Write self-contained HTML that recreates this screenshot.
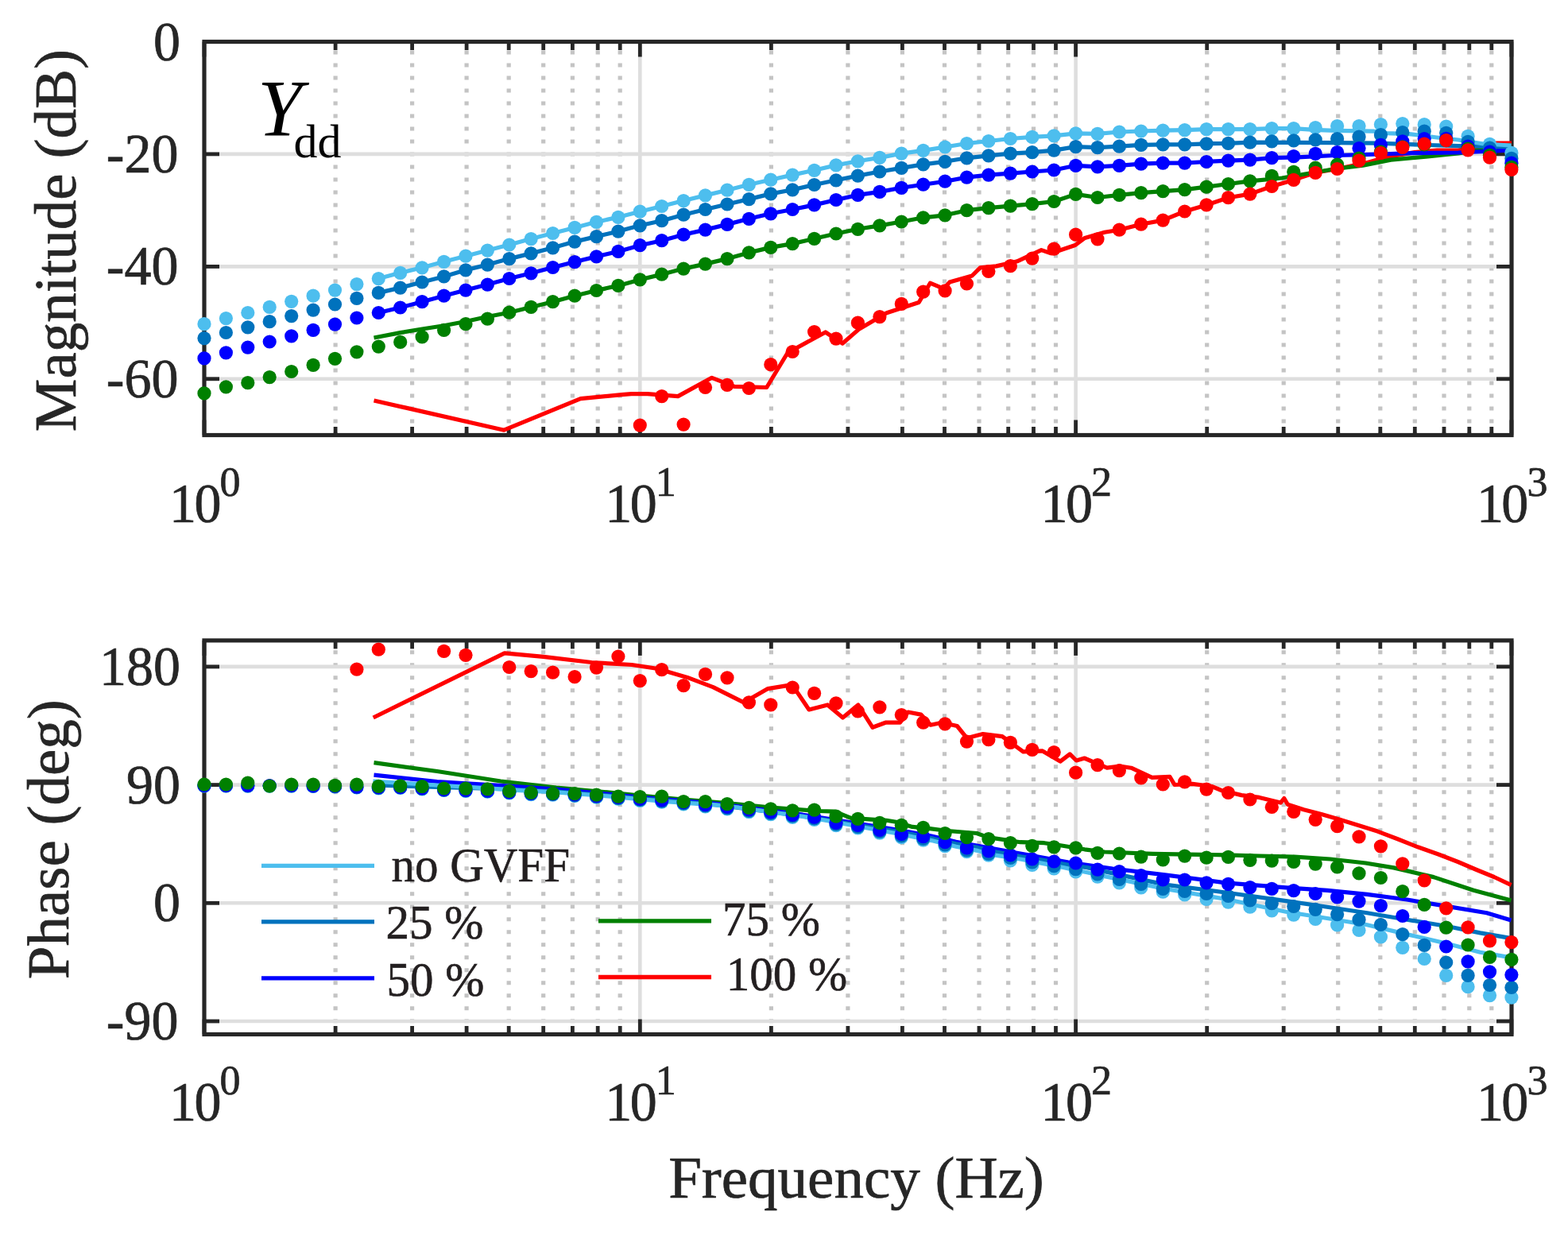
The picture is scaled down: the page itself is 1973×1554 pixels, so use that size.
<!DOCTYPE html><html><head><meta charset="utf-8"><title>Ydd Bode plot</title><style>html,body{margin:0;padding:0;background:#fff;overflow:hidden}svg{display:block}</style></head><body>
<svg width="1973" height="1554" viewBox="0 0 1973 1554">
<rect width="1973" height="1554" fill="#fff"/>
<g stroke="#c4c4c4" stroke-width="5.2" stroke-dasharray="5 11">
<line x1="422.1" y1="63.5" x2="422.1" y2="547.5"/>
<line x1="518.6" y1="63.5" x2="518.6" y2="547.5"/>
<line x1="587.1" y1="63.5" x2="587.1" y2="547.5"/>
<line x1="640.2" y1="63.5" x2="640.2" y2="547.5"/>
<line x1="683.7" y1="63.5" x2="683.7" y2="547.5"/>
<line x1="720.4" y1="63.5" x2="720.4" y2="547.5"/>
<line x1="752.2" y1="63.5" x2="752.2" y2="547.5"/>
<line x1="780.2" y1="63.5" x2="780.2" y2="547.5"/>
<line x1="970.4" y1="63.5" x2="970.4" y2="547.5"/>
<line x1="1066.9" y1="63.5" x2="1066.9" y2="547.5"/>
<line x1="1135.4" y1="63.5" x2="1135.4" y2="547.5"/>
<line x1="1188.5" y1="63.5" x2="1188.5" y2="547.5"/>
<line x1="1232" y1="63.5" x2="1232" y2="547.5"/>
<line x1="1268.7" y1="63.5" x2="1268.7" y2="547.5"/>
<line x1="1300.5" y1="63.5" x2="1300.5" y2="547.5"/>
<line x1="1328.5" y1="63.5" x2="1328.5" y2="547.5"/>
<line x1="1518.7" y1="63.5" x2="1518.7" y2="547.5"/>
<line x1="1615.2" y1="63.5" x2="1615.2" y2="547.5"/>
<line x1="1683.7" y1="63.5" x2="1683.7" y2="547.5"/>
<line x1="1736.8" y1="63.5" x2="1736.8" y2="547.5"/>
<line x1="1780.3" y1="63.5" x2="1780.3" y2="547.5"/>
<line x1="1817" y1="63.5" x2="1817" y2="547.5"/>
<line x1="1848.8" y1="63.5" x2="1848.8" y2="547.5"/>
<line x1="1876.8" y1="63.5" x2="1876.8" y2="547.5"/>
</g>
<g stroke="#dedede" stroke-width="4.6">
<line x1="257.0" y1="193.9" x2="1902.0" y2="193.9"/>
<line x1="257.0" y1="335.4" x2="1902.0" y2="335.4"/>
<line x1="257.0" y1="476.8" x2="1902.0" y2="476.8"/>
<line x1="805.3" y1="52.5" x2="805.3" y2="547.5"/>
<line x1="1353.6" y1="52.5" x2="1353.6" y2="547.5"/>
</g>
<g stroke="#262626" stroke-width="4.8">
<line x1="257.0" y1="52.5" x2="276.0" y2="52.5"/>
<line x1="1902.0" y1="52.5" x2="1883.0" y2="52.5"/>
<line x1="257.0" y1="193.9" x2="276.0" y2="193.9"/>
<line x1="1902.0" y1="193.9" x2="1883.0" y2="193.9"/>
<line x1="257.0" y1="335.4" x2="276.0" y2="335.4"/>
<line x1="1902.0" y1="335.4" x2="1883.0" y2="335.4"/>
<line x1="257.0" y1="476.8" x2="276.0" y2="476.8"/>
<line x1="1902.0" y1="476.8" x2="1883.0" y2="476.8"/>
<line x1="257" y1="547.5" x2="257" y2="528.5"/>
<line x1="257" y1="52.5" x2="257" y2="71.5"/>
<line x1="805.3" y1="547.5" x2="805.3" y2="528.5"/>
<line x1="805.3" y1="52.5" x2="805.3" y2="71.5"/>
<line x1="1353.6" y1="547.5" x2="1353.6" y2="528.5"/>
<line x1="1353.6" y1="52.5" x2="1353.6" y2="71.5"/>
<line x1="1901.9" y1="547.5" x2="1901.9" y2="528.5"/>
<line x1="1901.9" y1="52.5" x2="1901.9" y2="71.5"/>
<line x1="422.1" y1="547.5" x2="422.1" y2="537.0"/>
<line x1="422.1" y1="52.5" x2="422.1" y2="63.0"/>
<line x1="518.6" y1="547.5" x2="518.6" y2="537.0"/>
<line x1="518.6" y1="52.5" x2="518.6" y2="63.0"/>
<line x1="587.1" y1="547.5" x2="587.1" y2="537.0"/>
<line x1="587.1" y1="52.5" x2="587.1" y2="63.0"/>
<line x1="640.2" y1="547.5" x2="640.2" y2="537.0"/>
<line x1="640.2" y1="52.5" x2="640.2" y2="63.0"/>
<line x1="683.7" y1="547.5" x2="683.7" y2="537.0"/>
<line x1="683.7" y1="52.5" x2="683.7" y2="63.0"/>
<line x1="720.4" y1="547.5" x2="720.4" y2="537.0"/>
<line x1="720.4" y1="52.5" x2="720.4" y2="63.0"/>
<line x1="752.2" y1="547.5" x2="752.2" y2="537.0"/>
<line x1="752.2" y1="52.5" x2="752.2" y2="63.0"/>
<line x1="780.2" y1="547.5" x2="780.2" y2="537.0"/>
<line x1="780.2" y1="52.5" x2="780.2" y2="63.0"/>
<line x1="970.4" y1="547.5" x2="970.4" y2="537.0"/>
<line x1="970.4" y1="52.5" x2="970.4" y2="63.0"/>
<line x1="1066.9" y1="547.5" x2="1066.9" y2="537.0"/>
<line x1="1066.9" y1="52.5" x2="1066.9" y2="63.0"/>
<line x1="1135.4" y1="547.5" x2="1135.4" y2="537.0"/>
<line x1="1135.4" y1="52.5" x2="1135.4" y2="63.0"/>
<line x1="1188.5" y1="547.5" x2="1188.5" y2="537.0"/>
<line x1="1188.5" y1="52.5" x2="1188.5" y2="63.0"/>
<line x1="1232" y1="547.5" x2="1232" y2="537.0"/>
<line x1="1232" y1="52.5" x2="1232" y2="63.0"/>
<line x1="1268.7" y1="547.5" x2="1268.7" y2="537.0"/>
<line x1="1268.7" y1="52.5" x2="1268.7" y2="63.0"/>
<line x1="1300.5" y1="547.5" x2="1300.5" y2="537.0"/>
<line x1="1300.5" y1="52.5" x2="1300.5" y2="63.0"/>
<line x1="1328.5" y1="547.5" x2="1328.5" y2="537.0"/>
<line x1="1328.5" y1="52.5" x2="1328.5" y2="63.0"/>
<line x1="1518.7" y1="547.5" x2="1518.7" y2="537.0"/>
<line x1="1518.7" y1="52.5" x2="1518.7" y2="63.0"/>
<line x1="1615.2" y1="547.5" x2="1615.2" y2="537.0"/>
<line x1="1615.2" y1="52.5" x2="1615.2" y2="63.0"/>
<line x1="1683.7" y1="547.5" x2="1683.7" y2="537.0"/>
<line x1="1683.7" y1="52.5" x2="1683.7" y2="63.0"/>
<line x1="1736.8" y1="547.5" x2="1736.8" y2="537.0"/>
<line x1="1736.8" y1="52.5" x2="1736.8" y2="63.0"/>
<line x1="1780.3" y1="547.5" x2="1780.3" y2="537.0"/>
<line x1="1780.3" y1="52.5" x2="1780.3" y2="63.0"/>
<line x1="1817" y1="547.5" x2="1817" y2="537.0"/>
<line x1="1817" y1="52.5" x2="1817" y2="63.0"/>
<line x1="1848.8" y1="547.5" x2="1848.8" y2="537.0"/>
<line x1="1848.8" y1="52.5" x2="1848.8" y2="63.0"/>
<line x1="1876.8" y1="547.5" x2="1876.8" y2="537.0"/>
<line x1="1876.8" y1="52.5" x2="1876.8" y2="63.0"/>
</g>
<rect x="257.0" y="52.5" width="1645.0" height="495" fill="none" stroke="#262626" stroke-width="5.2"/>
<g fill="#262626" stroke="#262626" stroke-width="0.7" font-family="Liberation Serif, Times New Roman, serif" font-size="68" text-anchor="end">
<text transform="translate(227.1 75.5) scale(1 1.04)">0</text>
<text transform="translate(224.5 216.9) scale(1 1.04)">-20</text>
<text transform="translate(224.5 358.4) scale(1 1.04)">-40</text>
<text transform="translate(224.5 499.8) scale(1 1.04)">-60</text>
</g>
<g fill="#262626" stroke="#262626" stroke-width="0.7" font-family="Liberation Serif, Times New Roman, serif">
<text transform="translate(213 656.6) scale(1 1.04)" font-size="68">1<tspan dx="-2.6">0</tspan></text>
<text x="276.5" y="623.6" font-size="52">0</text>
<text transform="translate(761.3 656.6) scale(1 1.04)" font-size="68">1<tspan dx="-2.6">0</tspan></text>
<text x="824.8" y="623.6" font-size="52">1</text>
<text transform="translate(1309.6 656.6) scale(1 1.04)" font-size="68">1<tspan dx="-2.6">0</tspan></text>
<text x="1373.1" y="623.6" font-size="52">2</text>
<text transform="translate(1857.9 656.6) scale(1 1.04)" font-size="68">1<tspan dx="-2.6">0</tspan></text>
<text x="1921.4" y="623.6" font-size="52">3</text>
</g>
<g fill="none" stroke-width="5.2" stroke-linejoin="round">
<path d="M470.5 504 L634.2 541.2 L730.5 501.6 L782.2 496.6 L794.4 495.6 L814.6 495.6 L853.1 498.6 L895.7 475.3 L924.1 486.4 L964.7 487.5 L991 444 L1038.7 418 L1060 432.2 L1081.2 413.9 L1115.7 393.7 L1156.2 380.5 L1170.4 356.2 L1187.7 363.3 L1194.8 355.1 L1223.1 347 L1233.3 336.9 L1253.6 334.9 L1279.9 328.8 L1310.3 314.6 L1322.5 318.7 L1352.9 308.5 L1365 299.4 L1390 292.3 L1408.4 289.2 L1435.8 282.2 L1463.3 277.1 L1490.7 266 L1518.1 257.9 L1545.5 248.7 L1572.9 244.1 L1600.3 234.5 L1627.8 226.4 L1655.2 217.3 L1682.6 212.5 L1720.8 204.6 L1745.3 197.6 L1780 191.5 L1808.2 189.2 L1835 189 L1860 184.5 L1883 180.1 L1902 180.1" stroke="#ff0000"/>
<path d="M470.5 425 L503.7 418.6 L531.2 414 L558.6 409.8 L586 404.5 L613.4 398.5 L640.8 393.2 L668.2 386.4 L695.6 379.7 L723.1 372.2 L750.5 365.5 L777.9 359.4 L805.3 351.9 L832.7 345.2 L860.1 338.1 L887.5 332.1 L915 325.6 L942.4 317.9 L969.8 311.4 L997.2 306.6 L1024.6 300.3 L1052 294 L1079.4 288.3 L1106.9 283.9 L1134.3 279 L1161.7 273.8 L1189.1 270.8 L1216.5 264.7 L1243.9 261.6 L1271.4 259.2 L1298.8 256.6 L1326.2 253.5 L1353.6 244.4 L1381 248.5 L1408.4 245.3 L1435.8 242.7 L1463.3 240.6 L1490.7 238.6 L1518.1 235.2 L1545.5 231.5 L1572.9 227.9 L1613 224 L1680 212.5 L1715 208.1 L1750 201.1 L1796.6 197 L1835 193 L1901.5 182.5" stroke="#008000"/>
<path d="M470.5 394.9 L476.3 393.5 L503.7 387 L531.1 379.7 L558.6 372.2 L586 365.1 L613.4 358.1 L640.8 350.5 L668.2 343.8 L695.6 336.5 L723.1 329.6 L750.5 322.9 L777.9 316.4 L805.3 308.7 L832.7 302.7 L860.1 295.2 L887.5 289.1 L915 282.4 L942.4 275.3 L969.8 268.8 L997.2 263.5 L1024.6 257.9 L1052 251.5 L1079.4 245.4 L1106.9 241.4 L1134.3 236.3 L1161.7 232.2 L1189.1 228.2 L1216.5 223.1 L1243.9 220.1 L1271.4 218.1 L1298.8 216 L1326.2 214 L1353.6 208.3 L1381 209.9 L1408.4 208.3 L1435.8 206.2 L1463.3 205.1 L1490.7 205.1 L1518.1 203.5 L1545.5 202.1 L1572.9 201.1 L1600.3 198.7 L1633 197.8 L1680 195.5 L1715 194.7 L1750 193.5 L1777 192.7 L1800 192.4 L1835 192 L1876 190.2 L1901.5 188.8" stroke="#0000ff"/>
<path d="M470.5 369.7 L476.3 368.4 L503.7 362.1 L531.1 355 L558.6 347.9 L586 339.8 L613.4 333.1 L640.8 325.6 L668.2 318.9 L695.6 311.8 L723.1 304.1 L750.5 297.6 L777.9 291.1 L805.3 283.8 L832.7 277.7 L860.1 270.2 L887.5 263.5 L915 257 L942.4 250.6 L969.8 243.9 L997.2 238.8 L1024.6 232.5 L1052 226.8 L1079.4 221.1 L1106.9 216 L1134.3 211.4 L1161.7 206.9 L1189.1 203.3 L1216.5 198.8 L1243.9 195.8 L1271.4 193.1 L1298.8 191.7 L1326.2 189.1 L1353.6 184.6 L1381 185.6 L1408.4 184.2 L1435.8 182.4 L1463.3 181.8 L1490.7 181.8 L1518.1 180.8 L1545.5 180.4 L1572.9 179.2 L1627.8 179.3 L1680 179.6 L1732.5 180.1 L1796.6 182.5 L1835 183.6 L1901.5 184.8" stroke="#0072bd"/>
<path d="M470.5 352.1 L476.3 350.6 L503.7 343.3 L531.1 336.8 L558.6 329.3 L586 322.2 L613.4 315.1 L640.8 308 L668.2 300.6 L695.6 293.5 L723.1 286.4 L750.5 279.3 L777.9 273.3 L805.3 266.2 L832.7 259.5 L860.1 252.6 L887.5 245.9 L915 239.2 L942.4 232.3 L969.8 226.2 L997.2 220.1 L1024.6 214.3 L1052 207.9 L1079.4 202.8 L1106.9 198.4 L1134.3 193.1 L1161.7 189.3 L1189.1 185 L1216.5 180.5 L1243.9 177.5 L1271.4 174.5 L1298.8 172.4 L1326.2 170.8 L1353.6 167.8 L1381 168.4 L1408.4 166 L1435.8 165 L1463.3 164.2 L1490.7 163.6 L1518.1 162.6 L1545.5 162.6 L1572.9 162.6 L1600.3 161.6 L1627.8 161.6 L1653.6 163.4 L1680 164.4 L1729 165.2 L1745 167.6 L1773 168.6 L1808 173 L1835 176 L1866.5 181 L1901.5 183" stroke="#4dbeee"/>
</g>
<g fill="#4dbeee"><circle cx="257" cy="407.7" r="8.6"/><circle cx="284.4" cy="400.6" r="8.6"/><circle cx="311.8" cy="393.5" r="8.6"/><circle cx="339.2" cy="386.4" r="8.6"/><circle cx="366.7" cy="379.3" r="8.6"/><circle cx="394.1" cy="372.2" r="8.6"/><circle cx="421.5" cy="365.1" r="8.6"/><circle cx="448.9" cy="357.6" r="8.6"/><circle cx="476.3" cy="350.6" r="8.6"/><circle cx="503.7" cy="343.3" r="8.6"/><circle cx="531.1" cy="336.8" r="8.6"/><circle cx="558.6" cy="329.3" r="8.6"/><circle cx="586" cy="322.2" r="8.6"/><circle cx="613.4" cy="315.1" r="8.6"/><circle cx="640.8" cy="308" r="8.6"/><circle cx="668.2" cy="300.6" r="8.6"/><circle cx="695.6" cy="293.5" r="8.6"/><circle cx="723.1" cy="286.4" r="8.6"/><circle cx="750.5" cy="279.3" r="8.6"/><circle cx="777.9" cy="273.3" r="8.6"/><circle cx="805.3" cy="266.2" r="8.6"/><circle cx="832.7" cy="259.5" r="8.6"/><circle cx="860.1" cy="252.6" r="8.6"/><circle cx="887.5" cy="245.9" r="8.6"/><circle cx="915" cy="239.2" r="8.6"/><circle cx="942.4" cy="232.3" r="8.6"/><circle cx="969.8" cy="226.2" r="8.6"/><circle cx="997.2" cy="220.1" r="8.6"/><circle cx="1024.6" cy="214.3" r="8.6"/><circle cx="1052" cy="207.9" r="8.6"/><circle cx="1079.4" cy="202.8" r="8.6"/><circle cx="1106.9" cy="198.4" r="8.6"/><circle cx="1134.3" cy="193.1" r="8.6"/><circle cx="1161.7" cy="189.3" r="8.6"/><circle cx="1189.1" cy="185" r="8.6"/><circle cx="1216.5" cy="180.5" r="8.6"/><circle cx="1243.9" cy="177.5" r="8.6"/><circle cx="1271.4" cy="174.5" r="8.6"/><circle cx="1298.8" cy="172.4" r="8.6"/><circle cx="1326.2" cy="170.8" r="8.6"/><circle cx="1353.6" cy="167.8" r="8.6"/><circle cx="1381" cy="168.4" r="8.6"/><circle cx="1408.4" cy="166" r="8.6"/><circle cx="1435.8" cy="165" r="8.6"/><circle cx="1463.3" cy="164.2" r="8.6"/><circle cx="1490.7" cy="163.6" r="8.6"/><circle cx="1518.1" cy="162.6" r="8.6"/><circle cx="1545.5" cy="162.6" r="8.6"/><circle cx="1572.9" cy="162.6" r="8.6"/><circle cx="1600.3" cy="161.6" r="8.6"/><circle cx="1627.8" cy="161.6" r="8.6"/><circle cx="1655.2" cy="160.5" r="8.6"/><circle cx="1682.6" cy="158.5" r="8.6"/><circle cx="1710" cy="158.6" r="8.6"/><circle cx="1737.4" cy="156.5" r="8.6"/><circle cx="1764.8" cy="155.6" r="8.6"/><circle cx="1792.2" cy="156.7" r="8.6"/><circle cx="1819.7" cy="159.1" r="8.6"/><circle cx="1847.1" cy="171.4" r="8.6"/><circle cx="1874.5" cy="181.3" r="8.6"/><circle cx="1901.9" cy="192.4" r="8.6"/></g>
<g fill="#0072bd"><circle cx="257" cy="425.6" r="8.6"/><circle cx="284.4" cy="418.5" r="8.6"/><circle cx="311.8" cy="411.8" r="8.6"/><circle cx="339.2" cy="404.7" r="8.6"/><circle cx="366.7" cy="397.6" r="8.6"/><circle cx="394.1" cy="390.1" r="8.6"/><circle cx="421.5" cy="383" r="8.6"/><circle cx="448.9" cy="375.3" r="8.6"/><circle cx="476.3" cy="368.4" r="8.6"/><circle cx="503.7" cy="362.1" r="8.6"/><circle cx="531.1" cy="355" r="8.6"/><circle cx="558.6" cy="347.9" r="8.6"/><circle cx="586" cy="339.8" r="8.6"/><circle cx="613.4" cy="333.1" r="8.6"/><circle cx="640.8" cy="325.6" r="8.6"/><circle cx="668.2" cy="318.9" r="8.6"/><circle cx="695.6" cy="311.8" r="8.6"/><circle cx="723.1" cy="304.1" r="8.6"/><circle cx="750.5" cy="297.6" r="8.6"/><circle cx="777.9" cy="291.1" r="8.6"/><circle cx="805.3" cy="283.8" r="8.6"/><circle cx="832.7" cy="277.7" r="8.6"/><circle cx="860.1" cy="270.2" r="8.6"/><circle cx="887.5" cy="263.5" r="8.6"/><circle cx="915" cy="257" r="8.6"/><circle cx="942.4" cy="250.6" r="8.6"/><circle cx="969.8" cy="243.9" r="8.6"/><circle cx="997.2" cy="238.8" r="8.6"/><circle cx="1024.6" cy="232.5" r="8.6"/><circle cx="1052" cy="226.8" r="8.6"/><circle cx="1079.4" cy="221.1" r="8.6"/><circle cx="1106.9" cy="216" r="8.6"/><circle cx="1134.3" cy="211.4" r="8.6"/><circle cx="1161.7" cy="206.9" r="8.6"/><circle cx="1189.1" cy="203.3" r="8.6"/><circle cx="1216.5" cy="198.8" r="8.6"/><circle cx="1243.9" cy="195.8" r="8.6"/><circle cx="1271.4" cy="193.1" r="8.6"/><circle cx="1298.8" cy="191.7" r="8.6"/><circle cx="1326.2" cy="189.1" r="8.6"/><circle cx="1353.6" cy="184.6" r="8.6"/><circle cx="1381" cy="185.6" r="8.6"/><circle cx="1408.4" cy="184.2" r="8.6"/><circle cx="1435.8" cy="182.4" r="8.6"/><circle cx="1463.3" cy="181.8" r="8.6"/><circle cx="1490.7" cy="181.8" r="8.6"/><circle cx="1518.1" cy="180.8" r="8.6"/><circle cx="1545.5" cy="180.4" r="8.6"/><circle cx="1572.9" cy="179.2" r="8.6"/><circle cx="1600.3" cy="177.8" r="8.6"/><circle cx="1627.8" cy="176.8" r="8.6"/><circle cx="1655.2" cy="175.8" r="8.6"/><circle cx="1682.6" cy="174.7" r="8.6"/><circle cx="1710" cy="172.2" r="8.6"/><circle cx="1737.4" cy="169.7" r="8.6"/><circle cx="1764.8" cy="166.7" r="8.6"/><circle cx="1792.2" cy="165.2" r="8.6"/><circle cx="1819.7" cy="167.3" r="8.6"/><circle cx="1847.1" cy="178.4" r="8.6"/><circle cx="1874.5" cy="186" r="8.6"/><circle cx="1901.9" cy="199.4" r="8.6"/></g>
<g fill="#0000ff"><circle cx="257" cy="450.9" r="8.6"/><circle cx="284.4" cy="443.8" r="8.6"/><circle cx="311.8" cy="437.1" r="8.6"/><circle cx="339.2" cy="430" r="8.6"/><circle cx="366.7" cy="422.9" r="8.6"/><circle cx="394.1" cy="415.4" r="8.6"/><circle cx="421.5" cy="408.1" r="8.6"/><circle cx="448.9" cy="400" r="8.6"/><circle cx="476.3" cy="393.5" r="8.6"/><circle cx="503.7" cy="387" r="8.6"/><circle cx="531.1" cy="379.7" r="8.6"/><circle cx="558.6" cy="372.2" r="8.6"/><circle cx="586" cy="365.1" r="8.6"/><circle cx="613.4" cy="358.1" r="8.6"/><circle cx="640.8" cy="350.5" r="8.6"/><circle cx="668.2" cy="343.8" r="8.6"/><circle cx="695.6" cy="336.5" r="8.6"/><circle cx="723.1" cy="329.6" r="8.6"/><circle cx="750.5" cy="322.9" r="8.6"/><circle cx="777.9" cy="316.4" r="8.6"/><circle cx="805.3" cy="308.7" r="8.6"/><circle cx="832.7" cy="302.7" r="8.6"/><circle cx="860.1" cy="295.2" r="8.6"/><circle cx="887.5" cy="289.1" r="8.6"/><circle cx="915" cy="282.4" r="8.6"/><circle cx="942.4" cy="275.3" r="8.6"/><circle cx="969.8" cy="268.8" r="8.6"/><circle cx="997.2" cy="263.5" r="8.6"/><circle cx="1024.6" cy="257.9" r="8.6"/><circle cx="1052" cy="251.5" r="8.6"/><circle cx="1079.4" cy="245.4" r="8.6"/><circle cx="1106.9" cy="241.4" r="8.6"/><circle cx="1134.3" cy="236.3" r="8.6"/><circle cx="1161.7" cy="232.2" r="8.6"/><circle cx="1189.1" cy="228.2" r="8.6"/><circle cx="1216.5" cy="223.1" r="8.6"/><circle cx="1243.9" cy="220.1" r="8.6"/><circle cx="1271.4" cy="218.1" r="8.6"/><circle cx="1298.8" cy="216" r="8.6"/><circle cx="1326.2" cy="214" r="8.6"/><circle cx="1353.6" cy="208.3" r="8.6"/><circle cx="1381" cy="209.9" r="8.6"/><circle cx="1408.4" cy="208.3" r="8.6"/><circle cx="1435.8" cy="206.2" r="8.6"/><circle cx="1463.3" cy="205.1" r="8.6"/><circle cx="1490.7" cy="205.1" r="8.6"/><circle cx="1518.1" cy="203.5" r="8.6"/><circle cx="1545.5" cy="202.1" r="8.6"/><circle cx="1572.9" cy="201.1" r="8.6"/><circle cx="1600.3" cy="198.7" r="8.6"/><circle cx="1627.8" cy="196.6" r="8.6"/><circle cx="1655.2" cy="193.4" r="8.6"/><circle cx="1682.6" cy="191.6" r="8.6"/><circle cx="1710" cy="186.5" r="8.6"/><circle cx="1737.4" cy="182.4" r="8.6"/><circle cx="1764.8" cy="177.8" r="8.6"/><circle cx="1792.2" cy="174.6" r="8.6"/><circle cx="1819.7" cy="174.3" r="8.6"/><circle cx="1847.1" cy="184.2" r="8.6"/><circle cx="1874.5" cy="191.2" r="8.6"/><circle cx="1901.9" cy="205.2" r="8.6"/></g>
<g fill="#008000"><circle cx="257" cy="494.9" r="8.6"/><circle cx="284.4" cy="486.8" r="8.6"/><circle cx="311.8" cy="481.7" r="8.6"/><circle cx="339.2" cy="474.6" r="8.6"/><circle cx="366.7" cy="467.5" r="8.6"/><circle cx="394.1" cy="459.4" r="8.6"/><circle cx="421.5" cy="451.3" r="8.6"/><circle cx="448.9" cy="442.8" r="8.6"/><circle cx="476.3" cy="436.1" r="8.6"/><circle cx="503.7" cy="430.4" r="8.6"/><circle cx="531.1" cy="423.9" r="8.6"/><circle cx="558.6" cy="415.4" r="8.6"/><circle cx="586" cy="407.7" r="8.6"/><circle cx="613.4" cy="401.2" r="8.6"/><circle cx="640.8" cy="393.2" r="8.6"/><circle cx="668.2" cy="386.4" r="8.6"/><circle cx="695.6" cy="379.7" r="8.6"/><circle cx="723.1" cy="372.2" r="8.6"/><circle cx="750.5" cy="365.5" r="8.6"/><circle cx="777.9" cy="359.4" r="8.6"/><circle cx="805.3" cy="351.9" r="8.6"/><circle cx="832.7" cy="345.2" r="8.6"/><circle cx="860.1" cy="338.1" r="8.6"/><circle cx="887.5" cy="332.1" r="8.6"/><circle cx="915" cy="325.6" r="8.6"/><circle cx="942.4" cy="317.9" r="8.6"/><circle cx="969.8" cy="311.4" r="8.6"/><circle cx="997.2" cy="306.6" r="8.6"/><circle cx="1024.6" cy="300.3" r="8.6"/><circle cx="1052" cy="294" r="8.6"/><circle cx="1079.4" cy="288.3" r="8.6"/><circle cx="1106.9" cy="283.9" r="8.6"/><circle cx="1134.3" cy="279" r="8.6"/><circle cx="1161.7" cy="273.8" r="8.6"/><circle cx="1189.1" cy="270.8" r="8.6"/><circle cx="1216.5" cy="264.7" r="8.6"/><circle cx="1243.9" cy="261.6" r="8.6"/><circle cx="1271.4" cy="259.2" r="8.6"/><circle cx="1298.8" cy="256.6" r="8.6"/><circle cx="1326.2" cy="253.5" r="8.6"/><circle cx="1353.6" cy="244.4" r="8.6"/><circle cx="1381" cy="248.5" r="8.6"/><circle cx="1408.4" cy="245.3" r="8.6"/><circle cx="1435.8" cy="242.7" r="8.6"/><circle cx="1463.3" cy="240.6" r="8.6"/><circle cx="1490.7" cy="238.6" r="8.6"/><circle cx="1518.1" cy="235.2" r="8.6"/><circle cx="1545.5" cy="231.5" r="8.6"/><circle cx="1572.9" cy="227.9" r="8.6"/><circle cx="1600.3" cy="221.4" r="8.6"/><circle cx="1627.8" cy="216.3" r="8.6"/><circle cx="1655.2" cy="211.2" r="8.6"/><circle cx="1682.6" cy="207.1" r="8.6"/><circle cx="1710" cy="199" r="8.6"/><circle cx="1737.4" cy="191" r="8.6"/><circle cx="1764.8" cy="184.8" r="8.6"/><circle cx="1792.2" cy="181.9" r="8.6"/><circle cx="1819.7" cy="176.6" r="8.6"/><circle cx="1847.1" cy="187.1" r="8.6"/><circle cx="1874.5" cy="195.3" r="8.6"/><circle cx="1901.9" cy="210.4" r="8.6"/></g>
<g fill="#ff0000"><circle cx="805.3" cy="535.1" r="8.6"/><circle cx="832.7" cy="498.6" r="8.6"/><circle cx="860.1" cy="534.1" r="8.6"/><circle cx="887.5" cy="487.5" r="8.6"/><circle cx="915" cy="484.4" r="8.6"/><circle cx="942.4" cy="488.5" r="8.6"/><circle cx="969.8" cy="458.7" r="8.6"/><circle cx="997.2" cy="442.5" r="8.6"/><circle cx="1024.6" cy="417.5" r="8.6"/><circle cx="1052" cy="426.1" r="8.6"/><circle cx="1079.4" cy="406.2" r="8.6"/><circle cx="1106.9" cy="398.6" r="8.6"/><circle cx="1134.3" cy="382.4" r="8.6"/><circle cx="1161.7" cy="367.2" r="8.6"/><circle cx="1189.1" cy="365.9" r="8.6"/><circle cx="1216.5" cy="357" r="8.6"/><circle cx="1243.9" cy="341.5" r="8.6"/><circle cx="1271.4" cy="334.7" r="8.6"/><circle cx="1298.8" cy="325.1" r="8.6"/><circle cx="1326.2" cy="313.1" r="8.6"/><circle cx="1353.6" cy="295.2" r="8.6"/><circle cx="1381" cy="300.8" r="8.6"/><circle cx="1408.4" cy="289.2" r="8.6"/><circle cx="1435.8" cy="282.2" r="8.6"/><circle cx="1463.3" cy="277.1" r="8.6"/><circle cx="1490.7" cy="266" r="8.6"/><circle cx="1518.1" cy="257.9" r="8.6"/><circle cx="1545.5" cy="248.7" r="8.6"/><circle cx="1572.9" cy="244.1" r="8.6"/><circle cx="1600.3" cy="234.5" r="8.6"/><circle cx="1627.8" cy="226.4" r="8.6"/><circle cx="1655.2" cy="217.3" r="8.6"/><circle cx="1682.6" cy="212.5" r="8.6"/><circle cx="1710" cy="202.2" r="8.6"/><circle cx="1737.4" cy="192.5" r="8.6"/><circle cx="1764.8" cy="185.4" r="8.6"/><circle cx="1792.2" cy="181" r="8.6"/><circle cx="1819.7" cy="176.6" r="8.6"/><circle cx="1847.1" cy="188.9" r="8.6"/><circle cx="1874.5" cy="198.2" r="8.6"/><circle cx="1901.9" cy="213.4" r="8.6"/></g>
<g stroke="#c4c4c4" stroke-width="5.2" stroke-dasharray="5 11">
<line x1="422.1" y1="818.2" x2="422.1" y2="1301.5"/>
<line x1="518.6" y1="818.2" x2="518.6" y2="1301.5"/>
<line x1="587.1" y1="818.2" x2="587.1" y2="1301.5"/>
<line x1="640.2" y1="818.2" x2="640.2" y2="1301.5"/>
<line x1="683.7" y1="818.2" x2="683.7" y2="1301.5"/>
<line x1="720.4" y1="818.2" x2="720.4" y2="1301.5"/>
<line x1="752.2" y1="818.2" x2="752.2" y2="1301.5"/>
<line x1="780.2" y1="818.2" x2="780.2" y2="1301.5"/>
<line x1="970.4" y1="818.2" x2="970.4" y2="1301.5"/>
<line x1="1066.9" y1="818.2" x2="1066.9" y2="1301.5"/>
<line x1="1135.4" y1="818.2" x2="1135.4" y2="1301.5"/>
<line x1="1188.5" y1="818.2" x2="1188.5" y2="1301.5"/>
<line x1="1232" y1="818.2" x2="1232" y2="1301.5"/>
<line x1="1268.7" y1="818.2" x2="1268.7" y2="1301.5"/>
<line x1="1300.5" y1="818.2" x2="1300.5" y2="1301.5"/>
<line x1="1328.5" y1="818.2" x2="1328.5" y2="1301.5"/>
<line x1="1518.7" y1="818.2" x2="1518.7" y2="1301.5"/>
<line x1="1615.2" y1="818.2" x2="1615.2" y2="1301.5"/>
<line x1="1683.7" y1="818.2" x2="1683.7" y2="1301.5"/>
<line x1="1736.8" y1="818.2" x2="1736.8" y2="1301.5"/>
<line x1="1780.3" y1="818.2" x2="1780.3" y2="1301.5"/>
<line x1="1817" y1="818.2" x2="1817" y2="1301.5"/>
<line x1="1848.8" y1="818.2" x2="1848.8" y2="1301.5"/>
<line x1="1876.8" y1="818.2" x2="1876.8" y2="1301.5"/>
</g>
<g stroke="#dedede" stroke-width="4.6">
<line x1="257.0" y1="838.9" x2="1902.0" y2="838.9"/>
<line x1="257.0" y1="987.6" x2="1902.0" y2="987.6"/>
<line x1="257.0" y1="1136.3" x2="1902.0" y2="1136.3"/>
<line x1="257.0" y1="1285" x2="1902.0" y2="1285"/>
<line x1="805.3" y1="805.9" x2="805.3" y2="1301.5"/>
<line x1="1353.6" y1="805.9" x2="1353.6" y2="1301.5"/>
</g>
<g stroke="#262626" stroke-width="4.8">
<line x1="257.0" y1="838.9" x2="276.0" y2="838.9"/>
<line x1="1902.0" y1="838.9" x2="1883.0" y2="838.9"/>
<line x1="257.0" y1="987.6" x2="276.0" y2="987.6"/>
<line x1="1902.0" y1="987.6" x2="1883.0" y2="987.6"/>
<line x1="257.0" y1="1136.3" x2="276.0" y2="1136.3"/>
<line x1="1902.0" y1="1136.3" x2="1883.0" y2="1136.3"/>
<line x1="257.0" y1="1285" x2="276.0" y2="1285"/>
<line x1="1902.0" y1="1285" x2="1883.0" y2="1285"/>
<line x1="257" y1="1301.5" x2="257" y2="1282.5"/>
<line x1="257" y1="805.9" x2="257" y2="824.9"/>
<line x1="805.3" y1="1301.5" x2="805.3" y2="1282.5"/>
<line x1="805.3" y1="805.9" x2="805.3" y2="824.9"/>
<line x1="1353.6" y1="1301.5" x2="1353.6" y2="1282.5"/>
<line x1="1353.6" y1="805.9" x2="1353.6" y2="824.9"/>
<line x1="1901.9" y1="1301.5" x2="1901.9" y2="1282.5"/>
<line x1="1901.9" y1="805.9" x2="1901.9" y2="824.9"/>
<line x1="422.1" y1="1301.5" x2="422.1" y2="1291.0"/>
<line x1="422.1" y1="805.9" x2="422.1" y2="816.4"/>
<line x1="518.6" y1="1301.5" x2="518.6" y2="1291.0"/>
<line x1="518.6" y1="805.9" x2="518.6" y2="816.4"/>
<line x1="587.1" y1="1301.5" x2="587.1" y2="1291.0"/>
<line x1="587.1" y1="805.9" x2="587.1" y2="816.4"/>
<line x1="640.2" y1="1301.5" x2="640.2" y2="1291.0"/>
<line x1="640.2" y1="805.9" x2="640.2" y2="816.4"/>
<line x1="683.7" y1="1301.5" x2="683.7" y2="1291.0"/>
<line x1="683.7" y1="805.9" x2="683.7" y2="816.4"/>
<line x1="720.4" y1="1301.5" x2="720.4" y2="1291.0"/>
<line x1="720.4" y1="805.9" x2="720.4" y2="816.4"/>
<line x1="752.2" y1="1301.5" x2="752.2" y2="1291.0"/>
<line x1="752.2" y1="805.9" x2="752.2" y2="816.4"/>
<line x1="780.2" y1="1301.5" x2="780.2" y2="1291.0"/>
<line x1="780.2" y1="805.9" x2="780.2" y2="816.4"/>
<line x1="970.4" y1="1301.5" x2="970.4" y2="1291.0"/>
<line x1="970.4" y1="805.9" x2="970.4" y2="816.4"/>
<line x1="1066.9" y1="1301.5" x2="1066.9" y2="1291.0"/>
<line x1="1066.9" y1="805.9" x2="1066.9" y2="816.4"/>
<line x1="1135.4" y1="1301.5" x2="1135.4" y2="1291.0"/>
<line x1="1135.4" y1="805.9" x2="1135.4" y2="816.4"/>
<line x1="1188.5" y1="1301.5" x2="1188.5" y2="1291.0"/>
<line x1="1188.5" y1="805.9" x2="1188.5" y2="816.4"/>
<line x1="1232" y1="1301.5" x2="1232" y2="1291.0"/>
<line x1="1232" y1="805.9" x2="1232" y2="816.4"/>
<line x1="1268.7" y1="1301.5" x2="1268.7" y2="1291.0"/>
<line x1="1268.7" y1="805.9" x2="1268.7" y2="816.4"/>
<line x1="1300.5" y1="1301.5" x2="1300.5" y2="1291.0"/>
<line x1="1300.5" y1="805.9" x2="1300.5" y2="816.4"/>
<line x1="1328.5" y1="1301.5" x2="1328.5" y2="1291.0"/>
<line x1="1328.5" y1="805.9" x2="1328.5" y2="816.4"/>
<line x1="1518.7" y1="1301.5" x2="1518.7" y2="1291.0"/>
<line x1="1518.7" y1="805.9" x2="1518.7" y2="816.4"/>
<line x1="1615.2" y1="1301.5" x2="1615.2" y2="1291.0"/>
<line x1="1615.2" y1="805.9" x2="1615.2" y2="816.4"/>
<line x1="1683.7" y1="1301.5" x2="1683.7" y2="1291.0"/>
<line x1="1683.7" y1="805.9" x2="1683.7" y2="816.4"/>
<line x1="1736.8" y1="1301.5" x2="1736.8" y2="1291.0"/>
<line x1="1736.8" y1="805.9" x2="1736.8" y2="816.4"/>
<line x1="1780.3" y1="1301.5" x2="1780.3" y2="1291.0"/>
<line x1="1780.3" y1="805.9" x2="1780.3" y2="816.4"/>
<line x1="1817" y1="1301.5" x2="1817" y2="1291.0"/>
<line x1="1817" y1="805.9" x2="1817" y2="816.4"/>
<line x1="1848.8" y1="1301.5" x2="1848.8" y2="1291.0"/>
<line x1="1848.8" y1="805.9" x2="1848.8" y2="816.4"/>
<line x1="1876.8" y1="1301.5" x2="1876.8" y2="1291.0"/>
<line x1="1876.8" y1="805.9" x2="1876.8" y2="816.4"/>
</g>
<rect x="257.0" y="805.9" width="1645.0" height="495.6" fill="none" stroke="#262626" stroke-width="5.2"/>
<g fill="#262626" stroke="#262626" stroke-width="0.7" font-family="Liberation Serif, Times New Roman, serif" font-size="68" text-anchor="end">
<text transform="translate(227.1 861.9) scale(1 1.04)">180</text>
<text transform="translate(227.1 1010.6) scale(1 1.04)">90</text>
<text transform="translate(227.1 1159.3) scale(1 1.04)">0</text>
<text transform="translate(224.5 1308) scale(1 1.04)">-90</text>
</g>
<g fill="#262626" stroke="#262626" stroke-width="0.7" font-family="Liberation Serif, Times New Roman, serif">
<text transform="translate(213 1410.2) scale(1 1.04)" font-size="68">1<tspan dx="-2.6">0</tspan></text>
<text x="276.5" y="1377.2" font-size="52">0</text>
<text transform="translate(761.3 1410.2) scale(1 1.04)" font-size="68">1<tspan dx="-2.6">0</tspan></text>
<text x="824.8" y="1377.2" font-size="52">1</text>
<text transform="translate(1309.6 1410.2) scale(1 1.04)" font-size="68">1<tspan dx="-2.6">0</tspan></text>
<text x="1373.1" y="1377.2" font-size="52">2</text>
<text transform="translate(1857.9 1410.2) scale(1 1.04)" font-size="68">1<tspan dx="-2.6">0</tspan></text>
<text x="1921.4" y="1377.2" font-size="52">3</text>
</g>
<g fill="none" stroke-width="5.2" stroke-linejoin="round">
<path d="M469.7 903 L634.9 821.9 L683.6 826.4 L744.4 833.5 L795 836.5 L826.4 841.3 L864.9 852.4 L897.3 864.6 L935.8 883.9 L966.2 866.6 L996.7 861.6 L1018 893 L1041.3 886.9 L1060.5 903.1 L1079.8 886.9 L1098 915.3 L1114.2 909.2 L1132.5 909.2 L1142.6 896 L1158.8 899.1 L1171 912.2 L1185.2 909.2 L1204.3 913.5 L1216.5 928.7 L1236.8 923.6 L1261.1 926.6 L1287.5 945.9 L1311.8 944.9 L1334.1 958.1 L1346.2 948.9 L1354.4 957 L1364.5 954 L1392.9 966.2 L1409.1 964.1 L1423.3 966.2 L1449.6 978.3 L1471.9 977.3 L1478 987.5 L1500.3 986.4 L1524.7 989.5 L1536.8 994.5 L1562.3 1000.6 L1584.6 1003.4 L1598 1006.8 L1611.4 1010.1 L1615.8 1004.5 L1620.3 1012.3 L1640.4 1018.8 L1662.7 1024.5 L1685 1031 L1710 1038.8 L1733.3 1046.1 L1758 1055.5 L1784 1065.8 L1810 1075 L1834.6 1084.5 L1858 1094.5 L1880 1103.5 L1901.5 1113.6" stroke="#ff0000"/>
<path d="M470.5 959.7 L550 970.5 L630 983 L700 991 L760 996.5 L805 1001 L860 1006 L915 1010.5 L970 1016 L1030 1020.5 L1050.5 1021.2 L1070.8 1029.3 L1115.4 1032.3 L1127.6 1034.3 L1147.9 1040.4 L1168 1042.4 L1192.5 1045.5 L1229 1048.5 L1243.1 1053.6 L1283.7 1059.7 L1314 1060.7 L1334.4 1063.7 L1364.8 1068.8 L1390 1072 L1450.8 1074.3 L1542 1075.8 L1584.6 1077 L1629.2 1078.1 L1673.8 1081 L1718.4 1086 L1753.7 1091.9 L1803.9 1103.6 L1854.1 1120.3 L1901.5 1132.9" stroke="#008000"/>
<path d="M470.5 975.1 L550 983.5 L640 989 L700 993 L805 1003 L900 1011 L1010 1025.2 L1131.6 1044.5 L1172.2 1052 L1203 1059.3 L1233 1064.9 L1293.8 1075.9 L1344.5 1085 L1400 1093 L1466 1100.9 L1542 1110.8 L1618 1116.9 L1670 1120.3 L1720.2 1125.4 L1770.4 1132 L1820.6 1140.4 L1870.8 1148.8 L1901.5 1158" stroke="#0000ff"/>
<path d="M469.5 988 L470.5 987.9 L550 990.5 L640 993 L700 996 L760 1000.7 L805 1004.7 L845 1007.9 L900 1012.6 L1010 1027 L1120 1044.7 L1131.6 1046.7 L1149 1050.1 L1172.2 1054.7 L1176 1055.7 L1203 1061.9 L1230 1066.4 L1233 1067.2 L1254 1072 L1285 1077.9 L1293.8 1079.3 L1313 1082.2 L1339 1087.4 L1344.5 1088.4 L1368 1091.6 L1390 1096.6 L1466 1113.1 L1542 1123 L1618 1133.6 L1670 1141.3 L1720.2 1148.8 L1770.4 1157.2 L1820.6 1165.5 L1862.5 1173.9 L1901.5 1180.6" stroke="#0072bd"/>
<path d="M469.5 983.2 L470.5 983.2 L550 988 L606 991.4 L640 993.6 L655 994.6 L700 996.8 L760 1001.5 L805 1005.7 L845 1009.1 L900 1012.8 L930 1016.2 L1010 1027.4 L1040 1032.5 L1120 1047.2 L1131.6 1049.3 L1149 1053 L1172.2 1057.6 L1176 1058.6 L1203 1065.3 L1230 1070.4 L1233 1071.2 L1254 1076.4 L1285 1081.2 L1293.8 1082.9 L1313 1086.6 L1339 1091.7 L1344.5 1093 L1368 1097.7 L1390 1102.6 L1466 1118.4 L1542 1131.3 L1618 1147.3 L1670 1155.5 L1720.2 1163.8 L1770.4 1175.6 L1820.6 1187.3 L1862.5 1198.2 L1901.5 1204.9" stroke="#4dbeee"/>
</g>
<g fill="#4dbeee"><circle cx="257" cy="989" r="8.6"/><circle cx="284.4" cy="989" r="8.6"/><circle cx="311.8" cy="989.1" r="8.6"/><circle cx="339.2" cy="989.1" r="8.6"/><circle cx="366.7" cy="989.1" r="8.6"/><circle cx="394.1" cy="989.5" r="8.6"/><circle cx="421.5" cy="989.9" r="8.6"/><circle cx="448.9" cy="991" r="8.6"/><circle cx="476.3" cy="991.8" r="8.6"/><circle cx="503.7" cy="991.4" r="8.6"/><circle cx="531.1" cy="992.9" r="8.6"/><circle cx="558.6" cy="994.5" r="8.6"/><circle cx="586" cy="995.3" r="8.6"/><circle cx="613.4" cy="996.2" r="8.6"/><circle cx="640.8" cy="997.8" r="8.6"/><circle cx="668.2" cy="999.6" r="8.6"/><circle cx="695.6" cy="1000.1" r="8.6"/><circle cx="723.1" cy="1001.5" r="8.6"/><circle cx="750.5" cy="1003.2" r="8.6"/><circle cx="777.9" cy="1005.2" r="8.6"/><circle cx="805.3" cy="1007.4" r="8.6"/><circle cx="832.7" cy="1009.1" r="8.6"/><circle cx="860.1" cy="1012" r="8.6"/><circle cx="887.5" cy="1015" r="8.6"/><circle cx="915" cy="1018" r="8.6"/><circle cx="942.4" cy="1021.7" r="8.6"/><circle cx="969.8" cy="1024.7" r="8.6"/><circle cx="997.2" cy="1028.4" r="8.6"/><circle cx="1024.6" cy="1031.3" r="8.6"/><circle cx="1052" cy="1038.6" r="8.6"/><circle cx="1079.4" cy="1041.8" r="8.6"/><circle cx="1106.9" cy="1048.1" r="8.6"/><circle cx="1134.3" cy="1053.6" r="8.6"/><circle cx="1161.7" cy="1057.1" r="8.6"/><circle cx="1189.1" cy="1064.6" r="8.6"/><circle cx="1216.5" cy="1071.7" r="8.6"/><circle cx="1243.9" cy="1076.1" r="8.6"/><circle cx="1271.4" cy="1082.8" r="8.6"/><circle cx="1298.8" cy="1088.3" r="8.6"/><circle cx="1326.2" cy="1092.9" r="8.6"/><circle cx="1353.6" cy="1097" r="8.6"/><circle cx="1381" cy="1103.1" r="8.6"/><circle cx="1408.4" cy="1110.8" r="8.6"/><circle cx="1435.8" cy="1116.9" r="8.6"/><circle cx="1463.3" cy="1122.2" r="8.6"/><circle cx="1490.7" cy="1126" r="8.6"/><circle cx="1518.1" cy="1131.3" r="8.6"/><circle cx="1545.5" cy="1135.1" r="8.6"/><circle cx="1572.9" cy="1141.2" r="8.6"/><circle cx="1600.3" cy="1145.8" r="8.6"/><circle cx="1627.8" cy="1151.1" r="8.6"/><circle cx="1655.2" cy="1156.4" r="8.6"/><circle cx="1682.6" cy="1163.9" r="8.6"/><circle cx="1710" cy="1170.5" r="8.6"/><circle cx="1737.4" cy="1178.9" r="8.6"/><circle cx="1764.8" cy="1192.3" r="8.6"/><circle cx="1792.2" cy="1206.5" r="8.6"/><circle cx="1819.7" cy="1227.4" r="8.6"/><circle cx="1847.1" cy="1241.7" r="8.6"/><circle cx="1874.5" cy="1252.6" r="8.6"/><circle cx="1901.9" cy="1255.1" r="8.6"/></g>
<g fill="#0072bd"><circle cx="257" cy="988.8" r="8.6"/><circle cx="284.4" cy="988.8" r="8.6"/><circle cx="311.8" cy="988.8" r="8.6"/><circle cx="339.2" cy="988.8" r="8.6"/><circle cx="366.7" cy="988.9" r="8.6"/><circle cx="394.1" cy="989.2" r="8.6"/><circle cx="421.5" cy="989.6" r="8.6"/><circle cx="448.9" cy="990.6" r="8.6"/><circle cx="476.3" cy="991.4" r="8.6"/><circle cx="503.7" cy="991" r="8.6"/><circle cx="531.1" cy="992.4" r="8.6"/><circle cx="558.6" cy="994.1" r="8.6"/><circle cx="586" cy="994.9" r="8.6"/><circle cx="613.4" cy="995.7" r="8.6"/><circle cx="640.8" cy="997.3" r="8.6"/><circle cx="668.2" cy="999" r="8.6"/><circle cx="695.6" cy="999.5" r="8.6"/><circle cx="723.1" cy="1000.8" r="8.6"/><circle cx="750.5" cy="1002.5" r="8.6"/><circle cx="777.9" cy="1004.3" r="8.6"/><circle cx="805.3" cy="1006.5" r="8.6"/><circle cx="832.7" cy="1008.1" r="8.6"/><circle cx="860.1" cy="1011" r="8.6"/><circle cx="887.5" cy="1013.9" r="8.6"/><circle cx="915" cy="1016.9" r="8.6"/><circle cx="942.4" cy="1020.5" r="8.6"/><circle cx="969.8" cy="1023.5" r="8.6"/><circle cx="997.2" cy="1027" r="8.6"/><circle cx="1024.6" cy="1029.9" r="8.6"/><circle cx="1052" cy="1037.1" r="8.6"/><circle cx="1079.4" cy="1040.3" r="8.6"/><circle cx="1106.9" cy="1046.5" r="8.6"/><circle cx="1134.3" cy="1051.9" r="8.6"/><circle cx="1161.7" cy="1055.4" r="8.6"/><circle cx="1189.1" cy="1062.9" r="8.6"/><circle cx="1216.5" cy="1070" r="8.6"/><circle cx="1243.9" cy="1074.4" r="8.6"/><circle cx="1271.4" cy="1079.5" r="8.6"/><circle cx="1298.8" cy="1085" r="8.6"/><circle cx="1326.2" cy="1089.7" r="8.6"/><circle cx="1353.6" cy="1093.7" r="8.6"/><circle cx="1381" cy="1099.8" r="8.6"/><circle cx="1408.4" cy="1106.3" r="8.6"/><circle cx="1435.8" cy="1112.3" r="8.6"/><circle cx="1463.3" cy="1118.4" r="8.6"/><circle cx="1490.7" cy="1121.5" r="8.6"/><circle cx="1518.1" cy="1124.5" r="8.6"/><circle cx="1545.5" cy="1127.5" r="8.6"/><circle cx="1572.9" cy="1132.9" r="8.6"/><circle cx="1600.3" cy="1136.7" r="8.6"/><circle cx="1627.8" cy="1140.5" r="8.6"/><circle cx="1655.2" cy="1144.3" r="8.6"/><circle cx="1682.6" cy="1150.6" r="8.6"/><circle cx="1710" cy="1157.2" r="8.6"/><circle cx="1737.4" cy="1163.5" r="8.6"/><circle cx="1764.8" cy="1175.6" r="8.6"/><circle cx="1792.2" cy="1189.3" r="8.6"/><circle cx="1819.7" cy="1211" r="8.6"/><circle cx="1847.1" cy="1227.4" r="8.6"/><circle cx="1874.5" cy="1239.5" r="8.6"/><circle cx="1901.9" cy="1242.5" r="8.6"/></g>
<g fill="#0000ff"><circle cx="257" cy="988.5" r="8.6"/><circle cx="284.4" cy="988.5" r="8.6"/><circle cx="311.8" cy="988.5" r="8.6"/><circle cx="339.2" cy="988.5" r="8.6"/><circle cx="366.7" cy="988.5" r="8.6"/><circle cx="394.1" cy="988.8" r="8.6"/><circle cx="421.5" cy="989.2" r="8.6"/><circle cx="448.9" cy="990.2" r="8.6"/><circle cx="476.3" cy="991" r="8.6"/><circle cx="503.7" cy="990.6" r="8.6"/><circle cx="531.1" cy="992" r="8.6"/><circle cx="558.6" cy="993.6" r="8.6"/><circle cx="586" cy="994.4" r="8.6"/><circle cx="613.4" cy="995.2" r="8.6"/><circle cx="640.8" cy="996.8" r="8.6"/><circle cx="668.2" cy="998.4" r="8.6"/><circle cx="695.6" cy="998.8" r="8.6"/><circle cx="723.1" cy="1000" r="8.6"/><circle cx="750.5" cy="1001.6" r="8.6"/><circle cx="777.9" cy="1003.4" r="8.6"/><circle cx="805.3" cy="1005.5" r="8.6"/><circle cx="832.7" cy="1007" r="8.6"/><circle cx="860.1" cy="1009.8" r="8.6"/><circle cx="887.5" cy="1012.6" r="8.6"/><circle cx="915" cy="1015.5" r="8.6"/><circle cx="942.4" cy="1019" r="8.6"/><circle cx="969.8" cy="1021.9" r="8.6"/><circle cx="997.2" cy="1025.4" r="8.6"/><circle cx="1024.6" cy="1028.2" r="8.6"/><circle cx="1052" cy="1035.3" r="8.6"/><circle cx="1079.4" cy="1038.4" r="8.6"/><circle cx="1106.9" cy="1044.5" r="8.6"/><circle cx="1134.3" cy="1049.5" r="8.6"/><circle cx="1161.7" cy="1052.6" r="8.6"/><circle cx="1189.1" cy="1059.7" r="8.6"/><circle cx="1216.5" cy="1066.8" r="8.6"/><circle cx="1243.9" cy="1070.8" r="8.6"/><circle cx="1271.4" cy="1075.9" r="8.6"/><circle cx="1298.8" cy="1081" r="8.6"/><circle cx="1326.2" cy="1084" r="8.6"/><circle cx="1353.6" cy="1086" r="8.6"/><circle cx="1381" cy="1094.1" r="8.6"/><circle cx="1408.4" cy="1096.7" r="8.6"/><circle cx="1435.8" cy="1101.7" r="8.6"/><circle cx="1463.3" cy="1107" r="8.6"/><circle cx="1490.7" cy="1107" r="8.6"/><circle cx="1518.1" cy="1110.8" r="8.6"/><circle cx="1545.5" cy="1112.3" r="8.6"/><circle cx="1572.9" cy="1116.6" r="8.6"/><circle cx="1600.3" cy="1118.4" r="8.6"/><circle cx="1627.8" cy="1120.7" r="8.6"/><circle cx="1655.2" cy="1124.5" r="8.6"/><circle cx="1682.6" cy="1128.9" r="8.6"/><circle cx="1710" cy="1134.1" r="8.6"/><circle cx="1737.4" cy="1139.6" r="8.6"/><circle cx="1764.8" cy="1152.5" r="8.6"/><circle cx="1792.2" cy="1166.4" r="8.6"/><circle cx="1819.7" cy="1191" r="8.6"/><circle cx="1847.1" cy="1209.9" r="8.6"/><circle cx="1874.5" cy="1222.8" r="8.6"/><circle cx="1901.9" cy="1226.6" r="8.6"/></g>
<g fill="#008000"><circle cx="257" cy="987" r="8.6"/><circle cx="284.4" cy="987" r="8.6"/><circle cx="311.8" cy="985" r="8.6"/><circle cx="339.2" cy="989" r="8.6"/><circle cx="366.7" cy="987" r="8.6"/><circle cx="394.1" cy="987" r="8.6"/><circle cx="421.5" cy="988.3" r="8.6"/><circle cx="448.9" cy="987.2" r="8.6"/><circle cx="476.3" cy="989.3" r="8.6"/><circle cx="503.7" cy="988.8" r="8.6"/><circle cx="531.1" cy="989.7" r="8.6"/><circle cx="558.6" cy="992" r="8.6"/><circle cx="586" cy="992.1" r="8.6"/><circle cx="613.4" cy="992.9" r="8.6"/><circle cx="640.8" cy="995.3" r="8.6"/><circle cx="668.2" cy="997.3" r="8.6"/><circle cx="695.6" cy="998.4" r="8.6"/><circle cx="723.1" cy="998.6" r="8.6"/><circle cx="750.5" cy="1000.2" r="8.6"/><circle cx="777.9" cy="1002.2" r="8.6"/><circle cx="805.3" cy="1002.6" r="8.6"/><circle cx="832.7" cy="1002.2" r="8.6"/><circle cx="860.1" cy="1008.7" r="8.6"/><circle cx="887.5" cy="1008.7" r="8.6"/><circle cx="915" cy="1011.7" r="8.6"/><circle cx="942.4" cy="1016.4" r="8.6"/><circle cx="969.8" cy="1017.8" r="8.6"/><circle cx="997.2" cy="1019.8" r="8.6"/><circle cx="1024.6" cy="1019.2" r="8.6"/><circle cx="1052" cy="1027.2" r="8.6"/><circle cx="1079.4" cy="1030.3" r="8.6"/><circle cx="1106.9" cy="1035.3" r="8.6"/><circle cx="1134.3" cy="1038.4" r="8.6"/><circle cx="1161.7" cy="1041.4" r="8.6"/><circle cx="1189.1" cy="1048.5" r="8.6"/><circle cx="1216.5" cy="1053.6" r="8.6"/><circle cx="1243.9" cy="1055.6" r="8.6"/><circle cx="1271.4" cy="1060.7" r="8.6"/><circle cx="1298.8" cy="1064.3" r="8.6"/><circle cx="1326.2" cy="1065.8" r="8.6"/><circle cx="1353.6" cy="1066.8" r="8.6"/><circle cx="1381" cy="1073.3" r="8.6"/><circle cx="1408.4" cy="1074" r="8.6"/><circle cx="1435.8" cy="1078.1" r="8.6"/><circle cx="1463.3" cy="1081.9" r="8.6"/><circle cx="1490.7" cy="1077.1" r="8.6"/><circle cx="1518.1" cy="1079.2" r="8.6"/><circle cx="1545.5" cy="1078.3" r="8.6"/><circle cx="1572.9" cy="1082.3" r="8.6"/><circle cx="1600.3" cy="1083.1" r="8.6"/><circle cx="1627.8" cy="1084.3" r="8.6"/><circle cx="1655.2" cy="1087.1" r="8.6"/><circle cx="1682.6" cy="1091" r="8.6"/><circle cx="1710" cy="1098.9" r="8.6"/><circle cx="1737.4" cy="1104.5" r="8.6"/><circle cx="1764.8" cy="1121.7" r="8.6"/><circle cx="1792.2" cy="1138.4" r="8.6"/><circle cx="1819.7" cy="1167.2" r="8.6"/><circle cx="1847.1" cy="1189" r="8.6"/><circle cx="1874.5" cy="1204.4" r="8.6"/><circle cx="1901.9" cy="1207.4" r="8.6"/></g>
<g fill="#ff0000"><circle cx="448.9" cy="842.2" r="8.6"/><circle cx="476.3" cy="817.2" r="8.6"/><circle cx="558.6" cy="819.3" r="8.6"/><circle cx="586" cy="824.3" r="8.6"/><circle cx="640.8" cy="839.5" r="8.6"/><circle cx="668.2" cy="844.6" r="8.6"/><circle cx="695.6" cy="846.2" r="8.6"/><circle cx="723.1" cy="851.7" r="8.6"/><circle cx="750.5" cy="840.1" r="8.6"/><circle cx="777.9" cy="826" r="8.6"/><circle cx="805.3" cy="856.6" r="8.6"/><circle cx="832.7" cy="842.7" r="8.6"/><circle cx="860.1" cy="862.6" r="8.6"/><circle cx="887.5" cy="848.4" r="8.6"/><circle cx="915" cy="852.8" r="8.6"/><circle cx="942.4" cy="883.9" r="8.6"/><circle cx="969.8" cy="886.9" r="8.6"/><circle cx="997.2" cy="865" r="8.6"/><circle cx="1024.6" cy="872.3" r="8.6"/><circle cx="1052" cy="884.9" r="8.6"/><circle cx="1079.4" cy="895" r="8.6"/><circle cx="1106.9" cy="889.9" r="8.6"/><circle cx="1134.3" cy="899.5" r="8.6"/><circle cx="1161.7" cy="909.2" r="8.6"/><circle cx="1189.1" cy="910.8" r="8.6"/><circle cx="1216.5" cy="933.1" r="8.6"/><circle cx="1243.9" cy="930.7" r="8.6"/><circle cx="1271.4" cy="934.3" r="8.6"/><circle cx="1298.8" cy="943.3" r="8.6"/><circle cx="1326.2" cy="946.5" r="8.6"/><circle cx="1353.6" cy="972.2" r="8.6"/><circle cx="1381" cy="962.7" r="8.6"/><circle cx="1408.4" cy="969.6" r="8.6"/><circle cx="1435.8" cy="978.9" r="8.6"/><circle cx="1463.3" cy="987" r="8.6"/><circle cx="1490.7" cy="983.8" r="8.6"/><circle cx="1518.1" cy="993.1" r="8.6"/><circle cx="1545.5" cy="997.5" r="8.6"/><circle cx="1572.9" cy="1006" r="8.6"/><circle cx="1600.3" cy="1015.5" r="8.6"/><circle cx="1627.8" cy="1021.3" r="8.6"/><circle cx="1655.2" cy="1031.3" r="8.6"/><circle cx="1682.6" cy="1039.6" r="8.6"/><circle cx="1710" cy="1052.8" r="8.6"/><circle cx="1737.4" cy="1064.8" r="8.6"/><circle cx="1764.8" cy="1086.9" r="8.6"/><circle cx="1792.2" cy="1107.8" r="8.6"/><circle cx="1819.7" cy="1142.9" r="8.6"/><circle cx="1847.1" cy="1166.9" r="8.6"/><circle cx="1874.5" cy="1183.9" r="8.6"/><circle cx="1901.9" cy="1185.6" r="8.6"/></g>
<g fill="#262626" stroke="#262626" stroke-width="0.7" font-family="Liberation Serif, Times New Roman, serif" font-size="75" text-anchor="middle">
<text transform="translate(95 302.7) rotate(-90)">Magnitude (dB)</text>
<text transform="translate(85.7 1056.2) rotate(-90)">Phase (deg)</text>
<text x="1077.5" y="1506.8">Frequency (Hz)</text>
</g>
<text x="324" y="170.6" fill="#000" font-family="Liberation Serif, Times New Roman, serif" font-style="italic" font-size="101">Y</text>
<text x="369.5" y="197.9" fill="#000" font-family="Liberation Serif, Times New Roman, serif" font-size="60">dd</text>
<g stroke-width="5.3">
<line x1="329" y1="1089.4" x2="471" y2="1089.4" stroke="#4dbeee"/>
<line x1="329" y1="1159.8" x2="471" y2="1159.8" stroke="#0072bd"/>
<line x1="329" y1="1230.9" x2="471" y2="1230.9" stroke="#0000ff"/>
<line x1="753" y1="1158.8" x2="895" y2="1158.8" stroke="#008000"/>
<line x1="753" y1="1229.5" x2="895" y2="1229.5" stroke="#ff0000"/>
</g>
<g fill="#231f20" stroke="#231f20" stroke-width="0.6" font-family="Liberation Serif, Times New Roman, serif" font-size="59">
<text transform="translate(492.4 1109) scale(1 1.04)">no GVFF</text>
<text transform="translate(485.4 1180.6) scale(1 1.04)">25 %</text>
<text transform="translate(486.5 1253.3) scale(1 1.04)">50 %</text>
<text transform="translate(909 1176.8) scale(1 1.04)">75 %</text>
<text transform="translate(913.8 1245.6) scale(1 1.04)">100 %</text>
</g>
</svg></body></html>
